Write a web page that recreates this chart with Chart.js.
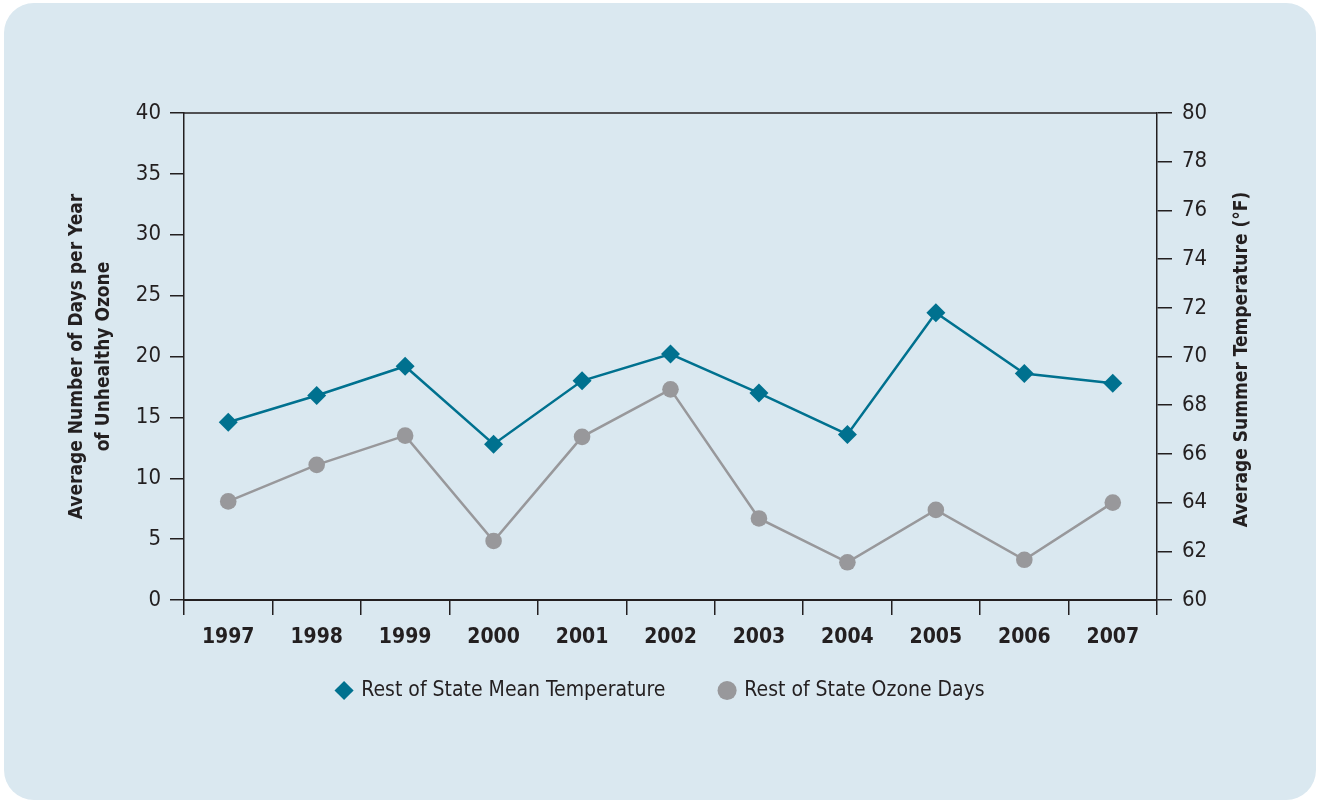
<!DOCTYPE html>
<html>
<head>
<meta charset="utf-8">
<script src="https://cdn.jsdelivr.net/npm/chart.js@4"></script>
<style>
  html, body { margin: 0; padding: 0; background: #ffffff; }
  #panel { position: absolute; left: 4px; top: 3px; width: 1312px; height: 797px; background: #dae8f0; border-radius: 30px; }
  #wrap { position: absolute; left: 0; top: 0; width: 1322px; height: 801px; }
</style>
</head>
<body>
<div id="panel"></div>
<div id="wrap"><canvas id="chart"></canvas></div>
<script>
// Dados
const anos = ['1997', '1998', '1999', '2000', '2001', '2002', '2003', '2004', '2005', '2006', '2007'];
const temperaturaMedia = [67.3, 68.4, 69.6, 66.4, 69.0, 70.1, 68.5, 66.8, 71.8, 69.3, 68.9];
const diasOzonio = [8.1, 11.1, 13.5, 4.85, 13.4, 17.3, 6.7, 3.1, 7.4, 3.3, 8.0];

const FONTE = "'Liberation Sans Narrow', 'DejaVu Sans Condensed', sans-serif";
const COR_TEXTO = '#231f20';
const COR_TEMP = '#00718f';
const COR_OZONIO = '#98989b';

// Moldura do gráfico e título do eixo direito (lido de baixo para cima)
const molduraPlugin = {
    id: 'moldura',
    afterDraw(chart) {
        const { ctx, chartArea: a } = chart;
        ctx.save();
        ctx.strokeStyle = COR_TEXTO;
        ctx.lineWidth = 1.5;
        ctx.beginPath();
        ctx.moveTo(a.left, a.top);
        ctx.lineTo(a.right, a.top);
        ctx.stroke();

        ctx.translate(1242, (a.top + a.bottom) / 2 + 3);
        ctx.rotate(-Math.PI / 2);
        ctx.font = 'bold 19px ' + FONTE;
        ctx.fillStyle = COR_TEXTO;
        ctx.textAlign = 'center';
        ctx.textBaseline = 'middle';
        ctx.fillText('Average Summer Temperature (°F)', 0, 0);
        ctx.restore();
    }
};

// Sobe a legenda para ficar logo abaixo dos anos
const legendaPlugin = {
    id: 'legendaPos',
    afterLayout(chart) {
        const lg = chart.legend;
        const desloc = 45;
        lg.top -= desloc;
        lg.bottom -= desloc;
        (lg.legendHitBoxes || []).forEach(b => { b.top -= desloc; });
    }
};

Chart.defaults.font.family = FONTE;
Chart.defaults.color = COR_TEXTO;

new Chart(document.getElementById('chart'), {
    type: 'line',
    data: {
        labels: anos,
        datasets: [
            {
                label: 'Rest of State Mean Temperature',
                data: temperaturaMedia,
                yAxisID: 'y1',
                borderColor: COR_TEMP,
                backgroundColor: COR_TEMP,
                borderWidth: 2.5,
                pointStyle: 'rectRot',
                pointRadius: 9.5,
                pointBorderWidth: 0,
                tension: 0
            },
            {
                label: 'Rest of State Ozone Days',
                data: diasOzonio,
                yAxisID: 'y',
                borderColor: COR_OZONIO,
                backgroundColor: COR_OZONIO,
                borderWidth: 2.5,
                pointStyle: 'circle',
                pointRadius: 8.3,
                pointBorderWidth: 0,
                tension: 0
            }
        ]
    },
    options: {
        responsive: true,
        maintainAspectRatio: false,
        animation: false,
        layout: { padding: { left: 0, top: 113, right: 0, bottom: 45 } },
        scales: {
            x: {
                offset: true,
                grid: { offset: true, drawOnChartArea: false, color: COR_TEXTO, tickLength: 15, lineWidth: 1.5 },
                border: { color: COR_TEXTO, width: 2 },
                ticks: { font: { size: 21, weight: 'bold' }, color: COR_TEXTO, padding: 10 },
                afterFit: s => { s.height = 70; }
            },
            y: {
                position: 'left',
                min: 0, max: 40,
                ticks: { stepSize: 5, font: { size: 22 }, color: COR_TEXTO, padding: 9 },
                grid: { drawOnChartArea: false, color: COR_TEXTO, tickLength: 14, lineWidth: 1.5 },
                border: { color: COR_TEXTO, width: 1.5 },
                title: {
                    display: true,
                    text: ['Average Number of Days per Year', 'of Unhealthy Ozone'],
                    font: { size: 19, weight: 'bold', lineHeight: 1.45 },
                    color: COR_TEXTO,
                    padding: { top: 63, bottom: 0 }
                },
                afterFit: s => { s.width = 184; }
            },
            y1: {
                position: 'right',
                min: 60, max: 80,
                ticks: { stepSize: 2, font: { size: 22 }, color: COR_TEXTO, padding: 10 },
                grid: { drawOnChartArea: false, color: COR_TEXTO, tickLength: 15, lineWidth: 1.5 },
                border: { color: COR_TEXTO, width: 1.5 },
                afterFit: s => { s.width = 165; }
            }
        },
        plugins: {
            legend: {
                position: 'bottom',
                labels: {
                    usePointStyle: true,
                    boxWidth: 13.5,
                    boxHeight: 13.5,
                    padding: 55,
                    font: { size: 21 },
                    color: COR_TEXTO
                }
            },
            tooltip: { enabled: false }
        }
    },
    plugins: [molduraPlugin, legendaPlugin]
});
</script>
</body>
</html>
